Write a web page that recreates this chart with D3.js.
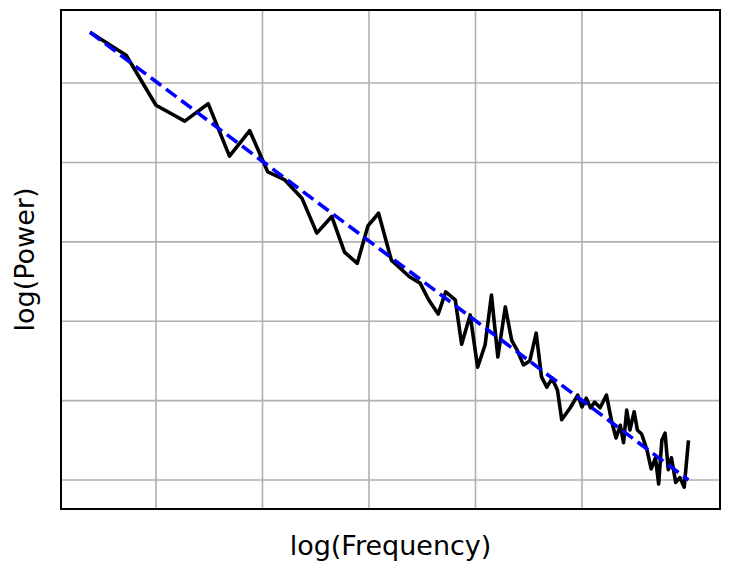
<!DOCTYPE html>
<html>
<head>
<meta charset="utf-8">
<script src="https://cdn.jsdelivr.net/npm/d3@7"></script>
<style>body{margin:0;background:#fff;} text{font-family:"DejaVu Sans",sans-serif;}</style>
</head>
<body>
<script>
// values (grid units)
var logFreq = [0.38,0.72,1.0,1.27,1.49,1.69,1.88,2.05,2.21,2.37,2.51,2.65,2.77,2.89,2.99,3.09,3.21,3.38,3.48,3.56,3.65,3.72,3.81,3.87,3.95,4.02,4.09,4.15,4.21,4.28,4.34,4.39,4.45,4.51,4.57,4.62,4.67,4.72,4.77,4.81,4.89,4.96,5.0,5.04,5.08,5.12,5.17,5.23,5.28,5.32,5.36,5.39,5.42,5.45,5.49,5.52,5.56,5.61,5.65,5.69,5.72,5.75,5.78,5.81,5.84,5.88,5.92,5.96,6.0];
var logPower = [5.64,5.35,4.72,4.52,4.74,4.08,4.40,3.88,3.78,3.55,3.11,3.32,2.87,2.73,3.20,3.36,2.77,2.56,2.48,2.27,2.09,2.37,2.27,1.71,2.08,1.42,1.70,2.33,1.55,2.18,1.76,1.64,1.45,1.50,1.85,1.30,1.17,1.28,1.13,0.76,0.91,1.07,0.92,1.03,0.91,0.98,0.91,1.07,0.73,0.53,0.69,0.47,0.88,0.63,0.86,0.63,0.58,0.38,0.14,0.28,-0.05,0.50,0.59,0.13,0.28,-0.03,0.03,-0.09,0.50];
var fitX = [0.38, 6.0];
var fitY = [5.64, 0.0];
var xTicks = [1,2,3,4,5];
var yTicks = [0,1,2,3,4,5];

var width = 729, height = 571;
var mLeft = 61, mRight = 720, mTop = 10, mBottom = 509;

var x = d3.scaleLinear().domain([0.108, 6.296]).range([mLeft, mRight]);
var y = d3.scaleLinear().domain([-0.365, 5.92]).range([mBottom, mTop]);

var svg = d3.select("body").append("svg").attr("width", width).attr("height", height);

svg.selectAll(".gx").data(xTicks).enter().append("line")
    .attr("x1", d => x(d)).attr("x2", d => x(d)).attr("y1", mTop).attr("y2", mBottom)
    .attr("stroke", "#b0b0b0").attr("stroke-width", 1.6);
svg.selectAll(".gy").data(yTicks).enter().append("line")
    .attr("y1", d => y(d)).attr("y2", d => y(d)).attr("x1", mLeft).attr("x2", mRight)
    .attr("stroke", "#b0b0b0").attr("stroke-width", 1.6);

var line = d3.line().x(d => x(d[0])).y(d => y(d[1]));

svg.append("path").datum(d3.zip(logFreq, logPower))
    .attr("d", line).attr("fill", "none").attr("stroke", "#000")
    .attr("stroke-width", 3.6).attr("stroke-linejoin", "round");

svg.append("path").datum(d3.zip(fitX, fitY))
    .attr("d", line).attr("fill", "none").attr("stroke", "#0000ff")
    .attr("stroke-width", 3.6).attr("stroke-dasharray", "13,6");

svg.append("rect").attr("x", mLeft).attr("y", mTop).attr("width", mRight - mLeft).attr("height", mBottom - mTop)
    .attr("fill", "none").attr("stroke", "#000").attr("stroke-width", 2);

svg.append("text").attr("x", (mLeft + mRight) / 2).attr("y", 555).attr("text-anchor", "middle")
    .attr("font-size", 27).text("log(Frequency)");
svg.append("text").attr("transform", "translate(34," + (mTop + mBottom) / 2 + ") rotate(-90)")
    .attr("text-anchor", "middle").attr("font-size", 27).text("log(Power)");
</script>
</body>
</html>
